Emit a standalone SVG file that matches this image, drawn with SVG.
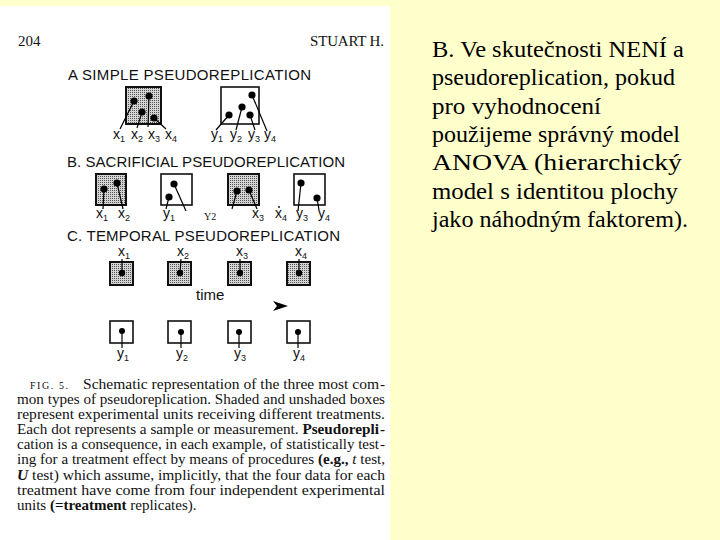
<svg xmlns="http://www.w3.org/2000/svg" width="720" height="540" viewBox="0 0 720 540">
<defs>
<pattern id="stip" width="2" height="2" patternUnits="userSpaceOnUse">
<rect width="2" height="2" fill="#d4d4d4"/>
<rect width="1" height="1" fill="#555"/>
</pattern>
<style>
.cap{font-family:"Liberation Sans",Arial,sans-serif;font-size:15px;fill:#111}
.lab{font-family:"Liberation Sans",Arial,sans-serif;font-size:14px;fill:#111}
.sub{font-size:9px}
.ser{font-family:"Liberation Serif","Times New Roman",serif;font-size:15px;fill:#111}
.big{font-family:"Liberation Serif","Times New Roman",serif;font-size:24px;fill:#000}
.sh{fill:url(#stip);stroke:#111;stroke-width:2}
.wb{fill:#fff;stroke:#111;stroke-width:1.6}
.dot{fill:#000}
.ld{stroke:#000;stroke-width:1.2;fill:none}
</style>
</defs>
<rect width="720" height="540" fill="#ffffcc"/>
<rect x="0" y="6" width="390" height="534" fill="#ffffff"/>

<g id="header">
<text class="ser" x="18" y="46">204</text>
<text class="ser" x="310" y="46" textLength="74" lengthAdjust="spacing">STUART H.</text>
</g>

<g id="sectionA">
<text class="cap" x="68" y="80" textLength="243" lengthAdjust="spacing">A SIMPLE  PSEUDOREPLICATION</text>
<g id="A-box1">
<rect class="sh" x="126" y="87" width="35" height="37"/>
<circle class="dot" cx="134" cy="101" r="3.6"/>
<circle class="dot" cx="149" cy="96" r="3.6"/>
<circle class="dot" cx="142" cy="112" r="3.6"/>
<circle class="dot" cx="154" cy="118" r="3.6"/>
</g>
<g id="A-box2">
<rect class="wb" x="221" y="87" width="38" height="37"/>
<circle class="dot" cx="229" cy="115" r="3.6"/>
<circle class="dot" cx="242" cy="107" r="3.6"/>
<circle class="dot" cx="252" cy="95" r="3.6"/>
<circle class="dot" cx="250" cy="115" r="3.6"/>
</g>
</g>

<g id="sectionB">
<text class="cap" x="67" y="167" textLength="278" lengthAdjust="spacing">B. SACRIFICIAL PSEUDOREPLICATION</text>
<g id="B-box1">
<rect class="sh" x="96" y="174" width="30" height="31"/>
<circle class="dot" cx="104" cy="189" r="3.6"/>
<circle class="dot" cx="117" cy="183" r="3.6"/>
</g>
<g id="B-box2">
<rect class="wb" x="161" y="174" width="31" height="31"/>
<circle class="dot" cx="174" cy="184" r="3.6"/>
<circle class="dot" cx="169" cy="197" r="3.6"/>
</g>
<g id="B-box3">
<rect class="sh" x="228" y="174" width="31" height="31"/>
<circle class="dot" cx="237" cy="191" r="3.6"/>
<circle class="dot" cx="249" cy="190" r="3.6"/>
</g>
<g id="B-box4">
<rect class="wb" x="294" y="174" width="31" height="31"/>
<circle class="dot" cx="301" cy="183" r="3.6"/>
<circle class="dot" cx="317" cy="198" r="3.6"/>
</g>
</g>

<g id="sectionC">
<text class="cap" x="67" y="241" textLength="273" lengthAdjust="spacing">C. TEMPORAL PSEUDOREPLICATION</text>
<g id="C-x1"><rect class="sh" x="110" y="262" width="23" height="23"/><circle class="dot" cx="122" cy="273" r="3.2"/></g>
<g id="C-x2"><rect class="sh" x="168" y="262" width="23" height="23"/><circle class="dot" cx="180" cy="273" r="3.2"/></g>
<g id="C-x3"><rect class="sh" x="228" y="262" width="23" height="23"/><circle class="dot" cx="240" cy="273" r="3.2"/></g>
<g id="C-x4"><rect class="sh" x="287" y="262" width="23" height="23"/><circle class="dot" cx="299" cy="273" r="3.2"/></g>
<g id="C-y1"><rect class="wb" x="110" y="321" width="23" height="22"/><circle class="dot" cx="122" cy="331" r="3"/></g>
<g id="C-y2"><rect class="wb" x="168" y="321" width="23" height="22"/><circle class="dot" cx="181" cy="332" r="3"/></g>
<g id="C-y3"><rect class="wb" x="228" y="321" width="23" height="22"/><circle class="dot" cx="239" cy="332" r="3"/></g>
<g id="C-y4"><rect class="wb" x="287" y="321" width="23" height="22"/><circle class="dot" cx="298" cy="332" r="3"/></g>
<text class="cap" x="196" y="300">time</text>
<path d="M273 301 L288 306 L273 311 L277 306 Z" fill="#000"/>
</g>

<g id="connectors">
<path class="ld" d="M134 101 L120 129"/>
<path class="ld" d="M149 96 L148 127"/>
<path class="ld" d="M142 112 L137 128"/>
<path class="ld" d="M154 118 L166 129"/>
<path class="ld" d="M229 115 L216 130"/>
<path class="ld" d="M242 107 L236 130"/>
<path class="ld" d="M252 95 L267 131"/>
<path class="ld" d="M250 115 L255 130"/>
<path class="ld" d="M104 189 L103 209"/>
<path class="ld" d="M117 183 L123 209"/>
<path class="ld" d="M174 184 L186 211"/>
<path class="ld" d="M169 197 L166 209"/>
<path class="ld" d="M237 191 L232 209"/>
<path class="ld" d="M249 190 L257 209"/>
<path class="ld" d="M301 183 L298 211"/>
<path class="ld" d="M317 198 L319 210"/>
<path class="ld" d="M122 259 L122 273"/>
<path class="ld" d="M181 259 L180 273"/>
<path class="ld" d="M240 259 L240 273"/>
<path class="ld" d="M299 259 L299 273"/>
<path class="ld" d="M122 331 L122 348"/>
<path class="ld" d="M181 332 L181 348"/>
<path class="ld" d="M239 332 L239 348"/>
<path class="ld" d="M298 332 L298 348"/>
</g>

<g id="labels">
<text class="lab" x="113" y="139">x<tspan class="sub" dy="3">1</tspan></text>
<text class="lab" x="131" y="139">x<tspan class="sub" dy="3">2</tspan></text>
<text class="lab" x="148" y="139">x<tspan class="sub" dy="3">3</tspan></text>
<text class="lab" x="165" y="139">x<tspan class="sub" dy="3">4</tspan></text>
<text class="lab" x="211" y="139">y<tspan class="sub" dy="3">1</tspan></text>
<text class="lab" x="230" y="139">y<tspan class="sub" dy="3">2</tspan></text>
<text class="lab" x="248" y="139">y<tspan class="sub" dy="3">3</tspan></text>
<text class="lab" x="264" y="139">y<tspan class="sub" dy="3">4</tspan></text>
<text class="lab" x="96" y="218">x<tspan class="sub" dy="3">1</tspan></text>
<text class="lab" x="118" y="218">x<tspan class="sub" dy="3">2</tspan></text>
<text class="lab" x="163" y="218">y<tspan class="sub" dy="3">1</tspan></text>
<text class="ser" x="204" y="220" style="font-size:10px">Y2</text>
<text class="lab" x="252" y="218">x<tspan class="sub" dy="3">3</tspan></text>
<circle cx="279" cy="207" r="0.9" fill="#000"/>
<text class="lab" x="275" y="218">x<tspan class="sub" dy="3">4</tspan></text>
<text class="lab" x="296" y="218">y<tspan class="sub" dy="3">3</tspan></text>
<text class="lab" x="318" y="218">y<tspan class="sub" dy="3">4</tspan></text>
<text class="lab" x="118" y="256">x<tspan class="sub" dy="3">1</tspan></text>
<text class="lab" x="177" y="256">x<tspan class="sub" dy="3">2</tspan></text>
<text class="lab" x="236" y="256">x<tspan class="sub" dy="3">3</tspan></text>
<text class="lab" x="295" y="256">x<tspan class="sub" dy="3">4</tspan></text>
<text class="lab" x="117" y="358">y<tspan class="sub" dy="3">1</tspan></text>
<text class="lab" x="176" y="358">y<tspan class="sub" dy="3">2</tspan></text>
<text class="lab" x="234" y="358">y<tspan class="sub" dy="3">3</tspan></text>
<text class="lab" x="293" y="358">y<tspan class="sub" dy="3">4</tspan></text>
</g>

<g id="caption" class="ser">
<text class="ser" x="30" y="389" style="font-size:10px" textLength="38" lengthAdjust="spacing">FIG. 5.</text>
<text class="ser" x="83" y="389" textLength="296" lengthAdjust="spacingAndGlyphs">Schematic representation of the three most com</text>
<text class="ser" x="380" y="389">-</text>
<text class="ser" x="17" y="404" textLength="368" lengthAdjust="spacingAndGlyphs">mon types of pseudoreplication. Shaded and unshaded boxes</text>
<text class="ser" x="17" y="419" textLength="368" lengthAdjust="spacingAndGlyphs">represent experimental units receiving different treatments.</text>
<text class="ser" x="17" y="434" textLength="362" lengthAdjust="spacingAndGlyphs">Each dot represents a sample or measurement. <tspan font-weight="bold">Pseudorepli</tspan></text>
<text class="ser" x="380" y="434" font-weight="bold">-</text>
<text class="ser" x="17" y="449" textLength="362" lengthAdjust="spacingAndGlyphs">cation is a consequence, in each example, of statistically test</text>
<text class="ser" x="380" y="449">-</text>
<text class="ser" x="17" y="464" textLength="368" lengthAdjust="spacingAndGlyphs">ing for a treatment effect by means of procedures   <tspan font-weight="bold">(e.g.,</tspan> <tspan font-style="italic">t</tspan> test,</text>
<text class="ser" x="17" y="480" textLength="368" lengthAdjust="spacingAndGlyphs"><tspan font-weight="bold" font-style="italic">U</tspan> test) which assume, implicitly, that the four data for each</text>
<text class="ser" x="17" y="495" textLength="368" lengthAdjust="spacingAndGlyphs">treatment have come from four independent experimental</text>
<text class="ser" x="17" y="510">units <tspan font-weight="bold">(=treatment</tspan> replicates).</text>
</g>

<g id="note">
<text class="big" x="432" y="57" textLength="252" lengthAdjust="spacingAndGlyphs">B. Ve skutečnosti NENÍ a</text>
<text class="big" x="432" y="85" textLength="243" lengthAdjust="spacingAndGlyphs">pseudoreplication, pokud</text>
<text class="big" x="432" y="114" textLength="169" lengthAdjust="spacingAndGlyphs">pro vyhodnocení</text>
<text class="big" x="432" y="142" textLength="248" lengthAdjust="spacingAndGlyphs">použijeme správný model</text>
<text class="big" x="432" y="170" textLength="250" lengthAdjust="spacingAndGlyphs">ANOVA (hierarchický</text>
<text class="big" x="432" y="199" textLength="246" lengthAdjust="spacingAndGlyphs">model s identitou plochy</text>
<text class="big" x="432" y="227" textLength="256" lengthAdjust="spacingAndGlyphs">jako náhodným faktorem).</text>
</g>
</svg>
